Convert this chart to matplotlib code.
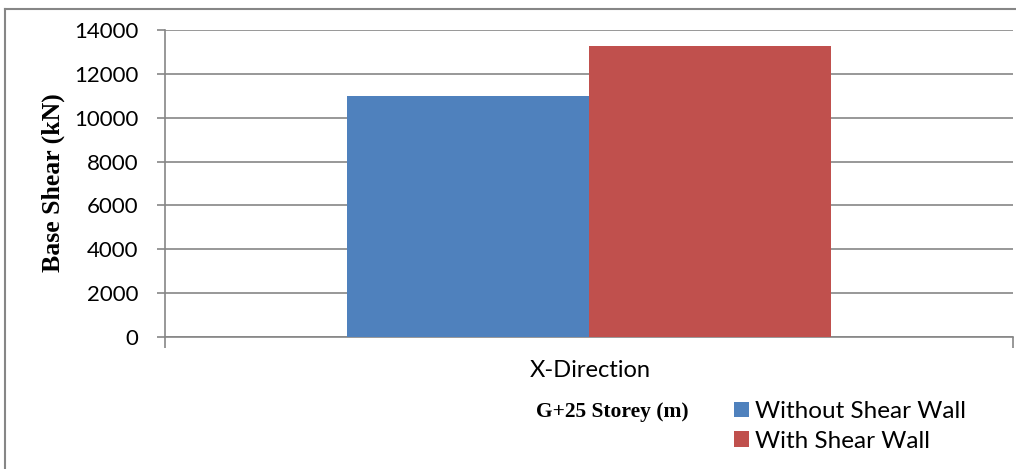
"""
Base shear of G+25 storey building, X-direction, with and without shear wall -> out.png
"""
import numpy as np
import matplotlib
matplotlib.use("Agg")
import matplotlib.pyplot as plt
from matplotlib.lines import Line2D
from matplotlib.patches import Patch

categories = ["X-Direction"]
series_names = ["Without Shear Wall", "With Shear Wall"]
without_wall = [10990]
with_wall = [13270]
colors = ["#4f81bd", "#c0504d"]
yticks = [0, 2000, 4000, 6000, 8000, 10000, 12000, 14000]

W, H = 1016, 469
fig = plt.figure(figsize=(W / 100, H / 100), dpi=100)
ax = fig.add_axes([165 / W, 1 - 337 / H, (1013 - 165) / W, (337 - 30) / H])

x = np.arange(len(categories))
w = 0.2853
ax.bar(x - w / 2, without_wall, w, color=colors[0], zorder=3)
ax.bar(x + w / 2, with_wall, w, color=colors[1], zorder=3)

ax.set_xlim(-0.5, 0.5)
ax.set_ylim(0, 14000)
ax.set_yticks(yticks)
ax.set_yticklabels([str(v) for v in yticks], fontfamily="Lato", fontsize=16)
ax.grid(axis="y", color="#868686", linewidth=1.2, zorder=0)
for s in ["top", "right"]:
    ax.spines[s].set_visible(False)
for s in ["left", "bottom"]:
    ax.spines[s].set_color("#868686")
    ax.spines[s].set_linewidth(1.2)
ax.tick_params(axis="y", length=6, color="#868686", width=1.2, pad=13)

# category boundary ticks like Excel
ax.set_xticks([-0.5, 0.5])
ax.set_xticklabels(["", ""])
ax.tick_params(axis="x", length=8, color="#868686", width=1.2)
fig.text(590 / W, 1 - 370 / H, categories[0], ha="center", va="center",
         fontfamily="Lato", fontsize=17)

fig.text(612 / W, 1 - 412 / H, "G+25 Storey (m)", ha="center", va="center",
         fontfamily="Liberation Serif", fontweight="bold", fontsize=15.5)
fig.text(53 / W, 1 - 183 / H, "Base Shear (kN)", ha="center", va="center",
         rotation=90, fontfamily="Liberation Serif", fontweight="bold", fontsize=18.5)

handles = [Patch(facecolor=c, edgecolor="none") for c in colors]
fig.legend(handles, series_names, loc="upper left", bbox_to_anchor=(734 / W, 1 - 401 / H),
           frameon=False, prop={"family": "Lato", "size": 17.5},
           handlelength=0.62, handleheight=0.62, handletextpad=0.25, labelspacing=0.35,
           borderaxespad=0, borderpad=0)

# outer chart border (top and left visible)
fig.add_artist(Line2D([5 / W, 1], [1 - 9 / H, 1 - 9 / H], color="#868686", linewidth=1.5))
fig.add_artist(Line2D([5 / W, 5 / W], [0, 1 - 9 / H], color="#868686", linewidth=1.5))

fig.savefig("out.png", dpi=100)
